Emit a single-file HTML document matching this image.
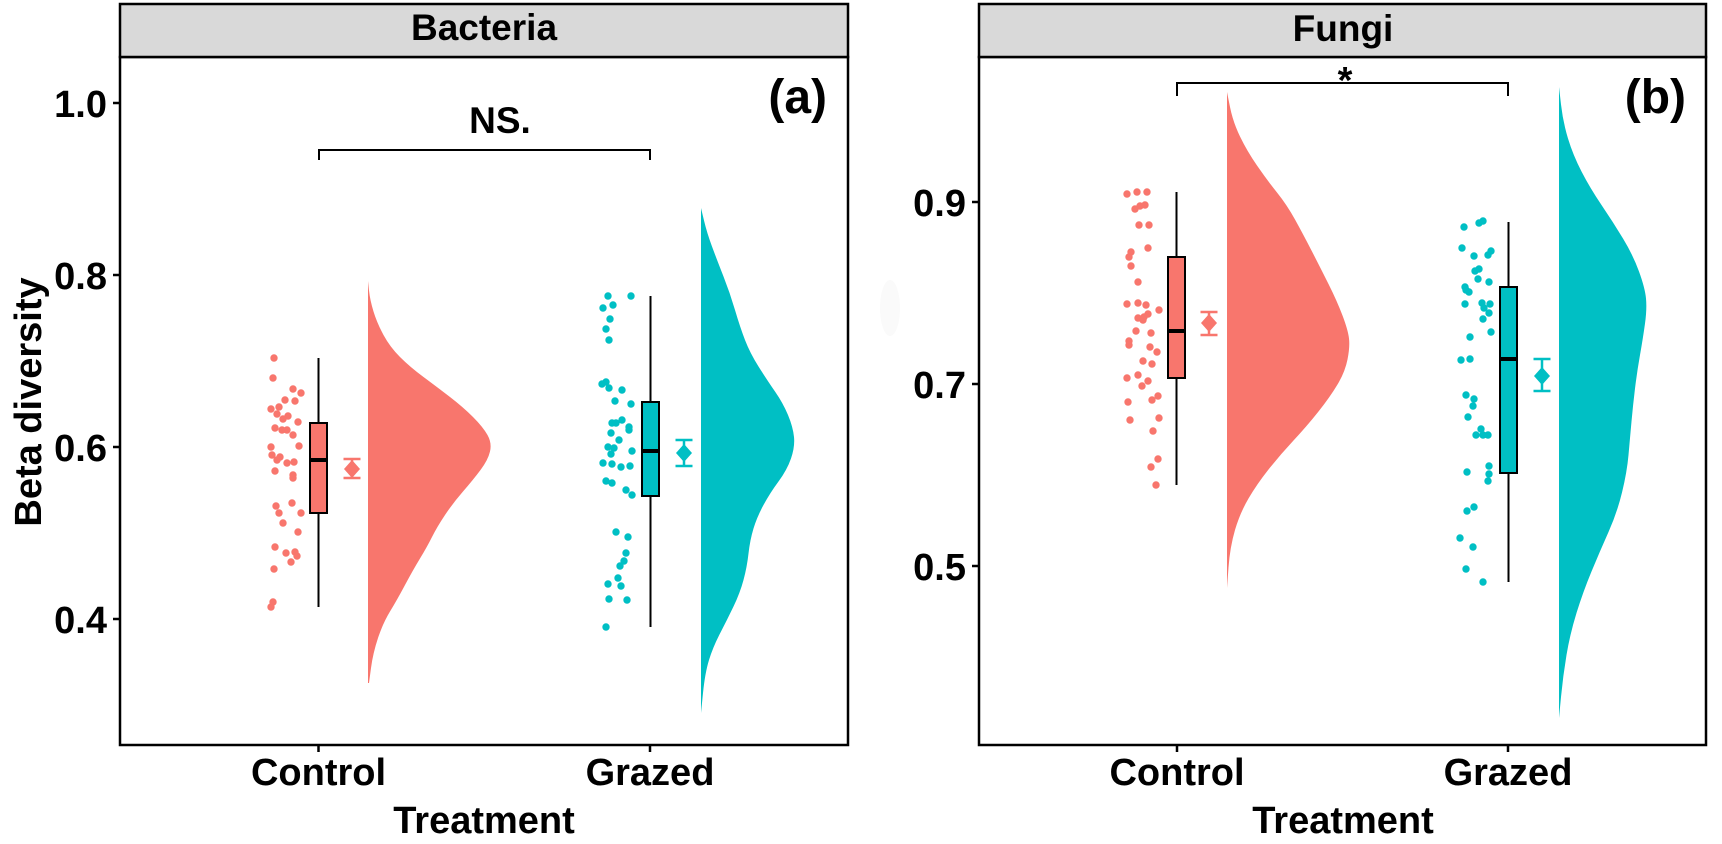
<!DOCTYPE html>
<html>
<head>
<meta charset="utf-8">
<style>
html,body{margin:0;padding:0;background:#fff;}
svg{display:block;}
text{font-family:"Liberation Sans",Arial,sans-serif;font-weight:bold;fill:#000;}
</style>
</head>
<body>
<svg width="1722" height="844" viewBox="0 0 1722 844" xmlns="http://www.w3.org/2000/svg">
<rect x="0" y="0" width="1722" height="844" fill="#fff"/>

<!-- ===== Panel A ===== -->
<path fill="#F8766D" d="M368,281 L369,290.5 Q370,300 373.5,311.5 Q377,323 383.5,335 Q390,347 400,357 Q410,367 423.5,377 Q437,387 450,397 Q463,407 473,417 Q483,427 487.5,435 Q492,443 490,451.5 Q488,460 480.5,470 Q473,480 463,491.5 Q453,503 445,515 Q437,527 432,537 Q427,547 420,558.5 Q413,570 405,585 Q397,600 390,611.5 Q383,623 378,638 Q373,653 371,668 L369,683 L368,683 Z"/>
<path fill="#00BFC4" d="M701,208 L704,220.5 Q707,233 712,246.5 Q717,260 723.5,276.5 Q730,293 735,310 Q740,327 745,340 Q750,353 758.5,366.5 Q767,380 775,391.5 Q783,403 788,415 Q793,427 794,437 Q795,447 791,458.5 Q787,470 778.5,481.5 Q770,493 763.5,505 Q757,517 753.5,528.5 Q750,540 748.5,553.5 Q747,567 743.5,580 Q740,593 733.5,606.5 Q727,620 720,633.5 Q713,647 709,660 Q705,673 703,693 L701,713 Z"/>

<g fill="#F8766D">
<circle cx="274" cy="358" r="3.7"/><circle cx="273" cy="378" r="3.7"/><circle cx="293" cy="389" r="3.7"/><circle cx="301" cy="393" r="3.7"/><circle cx="285" cy="400" r="3.7"/><circle cx="295" cy="401" r="3.7"/><circle cx="271" cy="409" r="3.7"/><circle cx="279" cy="407" r="3.7"/><circle cx="277" cy="414" r="3.7"/><circle cx="288" cy="416" r="3.7"/><circle cx="283" cy="419" r="3.7"/><circle cx="298" cy="422" r="3.7"/><circle cx="275" cy="428" r="3.7"/><circle cx="282" cy="430" r="3.7"/><circle cx="287" cy="430" r="3.7"/><circle cx="293" cy="435" r="3.7"/><circle cx="271" cy="447" r="3.7"/><circle cx="299" cy="446" r="3.7"/><circle cx="272" cy="455" r="3.7"/><circle cx="280" cy="457" r="3.7"/><circle cx="277" cy="460" r="3.7"/><circle cx="287" cy="463" r="3.7"/><circle cx="294" cy="462" r="3.7"/><circle cx="275" cy="471" r="3.7"/><circle cx="293" cy="475" r="3.7"/><circle cx="293" cy="478" r="3.7"/><circle cx="276" cy="506" r="3.7"/><circle cx="292" cy="503" r="3.7"/><circle cx="279" cy="513" r="3.7"/><circle cx="301" cy="513" r="3.7"/><circle cx="283" cy="523" r="3.7"/><circle cx="298" cy="532" r="3.7"/><circle cx="275" cy="547" r="3.7"/><circle cx="286" cy="553" r="3.7"/><circle cx="295" cy="552" r="3.7"/><circle cx="297" cy="556" r="3.7"/><circle cx="291" cy="562" r="3.7"/><circle cx="274" cy="569" r="3.7"/><circle cx="273" cy="602" r="3.7"/><circle cx="271" cy="607" r="3.7"/>
</g>
<g fill="#00BFC4">
<circle cx="608" cy="296" r="3.7"/><circle cx="631" cy="296" r="3.7"/><circle cx="613" cy="305" r="3.7"/><circle cx="603" cy="308" r="3.7"/><circle cx="610" cy="319" r="3.7"/><circle cx="606" cy="329" r="3.7"/><circle cx="609" cy="340" r="3.7"/><circle cx="602" cy="384" r="3.7"/><circle cx="606" cy="382" r="3.7"/><circle cx="609" cy="388" r="3.7"/><circle cx="622" cy="390" r="3.7"/><circle cx="615" cy="401" r="3.7"/><circle cx="631" cy="404" r="3.7"/><circle cx="612" cy="423" r="3.7"/><circle cx="616" cy="423" r="3.7"/><circle cx="622" cy="420" r="3.7"/><circle cx="629" cy="427" r="3.7"/><circle cx="629" cy="430" r="3.7"/><circle cx="611" cy="433" r="3.7"/><circle cx="619" cy="440" r="3.7"/><circle cx="608" cy="447" r="3.7"/><circle cx="614" cy="448" r="3.7"/><circle cx="611" cy="454" r="3.7"/><circle cx="632" cy="451" r="3.7"/><circle cx="603" cy="463" r="3.7"/><circle cx="612" cy="464" r="3.7"/><circle cx="621" cy="467" r="3.7"/><circle cx="630" cy="466" r="3.7"/><circle cx="606" cy="481" r="3.7"/><circle cx="612" cy="483" r="3.7"/><circle cx="626" cy="490" r="3.7"/><circle cx="632" cy="495" r="3.7"/><circle cx="616" cy="532" r="3.7"/><circle cx="628" cy="537" r="3.7"/><circle cx="626" cy="553" r="3.7"/><circle cx="624" cy="561" r="3.7"/><circle cx="620" cy="566" r="3.7"/><circle cx="618" cy="578" r="3.7"/><circle cx="608" cy="584" r="3.7"/><circle cx="621" cy="586" r="3.7"/><circle cx="609" cy="599" r="3.7"/><circle cx="627" cy="600" r="3.7"/><circle cx="606" cy="627" r="3.7"/>
</g>

<g stroke="#000" stroke-width="2">
<line x1="318.5" y1="358" x2="318.5" y2="607"/>
<rect x="310" y="423" width="17" height="90" fill="#F8766D"/>
<line x1="310" y1="460" x2="327" y2="460" stroke-width="4"/>
<line x1="650.5" y1="296" x2="650.5" y2="627"/>
<rect x="642" y="402" width="17" height="94" fill="#00BFC4"/>
<line x1="642" y1="451" x2="659" y2="451" stroke-width="4"/>
</g>
<g stroke="#F8766D" stroke-width="2.5" fill="none">
<line x1="352" y1="459" x2="352" y2="478"/><line x1="343.5" y1="459" x2="360.5" y2="459"/><line x1="343.5" y1="478" x2="360.5" y2="478"/>
</g>
<path fill="#F8766D" d="M352,460 L360,469 L352,478 L344,469 Z"/>
<g stroke="#00BFC4" stroke-width="2.5" fill="none">
<line x1="684" y1="440" x2="684" y2="466"/><line x1="675.5" y1="440" x2="692.5" y2="440"/><line x1="675.5" y1="466" x2="692.5" y2="466"/>
</g>
<path fill="#00BFC4" d="M684,444 L692,453 L684,462 L676,453 Z"/>

<path d="M319,160 L319,150 L650,150 L650,160" fill="none" stroke="#000" stroke-width="2"/>
<text x="500" y="133" font-size="37" text-anchor="middle">NS.</text>
<text x="827" y="113" font-size="48" text-anchor="end">(a)</text>

<rect x="120" y="57" width="728" height="688" fill="none" stroke="#000" stroke-width="2.5"/>
<rect x="120" y="4" width="728" height="53" fill="#D9D9D9" stroke="#000" stroke-width="2.5"/>
<text x="484" y="40" font-size="37" text-anchor="middle">Bacteria</text>

<g stroke="#000" stroke-width="2.5">
<line x1="113" y1="103" x2="120" y2="103"/><line x1="113" y1="275" x2="120" y2="275"/><line x1="113" y1="447" x2="120" y2="447"/><line x1="113" y1="619" x2="120" y2="619"/>
<line x1="318.5" y1="745" x2="318.5" y2="752"/><line x1="650" y1="745" x2="650" y2="752"/>
</g>
<g font-size="38" text-anchor="end">
<text x="107" y="117">1.0</text><text x="107" y="289">0.8</text><text x="107" y="461">0.6</text><text x="107" y="633">0.4</text>
</g>
<g font-size="38" text-anchor="middle">
<text x="318.5" y="785">Control</text><text x="650" y="785">Grazed</text>
<text x="484" y="833">Treatment</text>
</g>
<text transform="translate(41,402) rotate(-90)" font-size="38" text-anchor="middle">Beta diversity</text>

<!-- ===== Panel B ===== -->
<ellipse cx="890" cy="308" rx="10" ry="28" fill="#fafafa"/>
<path fill="#F8766D" d="M1227,92 L1230,107 Q1233,122 1240,136.5 Q1247,151 1257,165.5 Q1267,180 1277,192.5 Q1287,205 1295,219.5 Q1303,234 1311.5,250.5 Q1320,267 1328.5,284 Q1337,301 1342.5,315.5 Q1348,330 1349,338.5 Q1350,347 1347.5,359.5 Q1345,372 1337.5,384.5 Q1330,397 1318.5,411.5 Q1307,426 1293.5,440.5 Q1280,455 1268.5,469.5 Q1257,484 1248.5,498.5 Q1240,513 1235,530 Q1230,547 1228.5,567.5 L1227,588 Z"/>
<path fill="#00BFC4" d="M1559,87 L1561,104.5 Q1563,122 1568,138.5 Q1573,155 1581.5,171.5 Q1590,188 1601.5,205 Q1613,222 1623,238.5 Q1633,255 1639,271.5 Q1645,288 1646,298.5 Q1647,309 1645,323.5 Q1643,338 1640,355 Q1637,372 1635,388.5 Q1633,405 1631.5,421.5 Q1630,438 1628.5,455 Q1627,472 1622,492.5 Q1617,513 1608.5,532 Q1600,551 1591.5,571.5 Q1583,592 1576.5,613 Q1570,634 1566.5,655 Q1563,676 1561,697 L1559,718 Z"/>

<g fill="#F8766D">
<circle cx="1127" cy="194" r="3.7"/><circle cx="1137" cy="192" r="3.7"/><circle cx="1147" cy="192" r="3.7"/><circle cx="1135" cy="209" r="3.7"/><circle cx="1140" cy="206" r="3.7"/><circle cx="1145" cy="205" r="3.7"/><circle cx="1139" cy="225" r="3.7"/><circle cx="1149" cy="225" r="3.7"/><circle cx="1148" cy="248" r="3.7"/><circle cx="1131" cy="252" r="3.7"/><circle cx="1129" cy="257" r="3.7"/><circle cx="1131" cy="266" r="3.7"/><circle cx="1138" cy="282" r="3.7"/><circle cx="1127" cy="304" r="3.7"/><circle cx="1138" cy="303" r="3.7"/><circle cx="1146" cy="305" r="3.7"/><circle cx="1159" cy="310" r="3.7"/><circle cx="1148" cy="314" r="3.7"/><circle cx="1144" cy="317" r="3.7"/><circle cx="1138" cy="318" r="3.7"/><circle cx="1143" cy="320" r="3.7"/><circle cx="1136" cy="331" r="3.7"/><circle cx="1151" cy="333" r="3.7"/><circle cx="1129" cy="341" r="3.7"/><circle cx="1129" cy="345" r="3.7"/><circle cx="1150" cy="347" r="3.7"/><circle cx="1157" cy="352" r="3.7"/><circle cx="1143" cy="361" r="3.7"/><circle cx="1152" cy="364" r="3.7"/><circle cx="1138" cy="375" r="3.7"/><circle cx="1127" cy="378" r="3.7"/><circle cx="1148" cy="381" r="3.7"/><circle cx="1142" cy="386" r="3.7"/><circle cx="1158" cy="396" r="3.7"/><circle cx="1152" cy="400" r="3.7"/><circle cx="1128" cy="402" r="3.7"/><circle cx="1130" cy="420" r="3.7"/><circle cx="1159" cy="418" r="3.7"/><circle cx="1153" cy="431" r="3.7"/><circle cx="1158" cy="459" r="3.7"/><circle cx="1151" cy="467" r="3.7"/><circle cx="1156" cy="485" r="3.7"/>
</g>
<g fill="#00BFC4">
<circle cx="1464" cy="227" r="3.7"/><circle cx="1479" cy="223" r="3.7"/><circle cx="1483" cy="221" r="3.7"/><circle cx="1462" cy="248" r="3.7"/><circle cx="1474" cy="256" r="3.7"/><circle cx="1488" cy="255" r="3.7"/><circle cx="1491" cy="251" r="3.7"/><circle cx="1475" cy="271" r="3.7"/><circle cx="1479" cy="269" r="3.7"/><circle cx="1478" cy="279" r="3.7"/><circle cx="1489" cy="282" r="3.7"/><circle cx="1465" cy="287" r="3.7"/><circle cx="1466" cy="290" r="3.7"/><circle cx="1469" cy="292" r="3.7"/><circle cx="1465" cy="304" r="3.7"/><circle cx="1482" cy="303" r="3.7"/><circle cx="1490" cy="304" r="3.7"/><circle cx="1484" cy="308" r="3.7"/><circle cx="1489" cy="313" r="3.7"/><circle cx="1483" cy="319" r="3.7"/><circle cx="1491" cy="332" r="3.7"/><circle cx="1470" cy="337" r="3.7"/><circle cx="1461" cy="360" r="3.7"/><circle cx="1470" cy="359" r="3.7"/><circle cx="1466" cy="395" r="3.7"/><circle cx="1474" cy="399" r="3.7"/><circle cx="1473" cy="406" r="3.7"/><circle cx="1468" cy="417" r="3.7"/><circle cx="1481" cy="429" r="3.7"/><circle cx="1476" cy="435" r="3.7"/><circle cx="1483" cy="435" r="3.7"/><circle cx="1488" cy="435" r="3.7"/><circle cx="1489" cy="466" r="3.7"/><circle cx="1489" cy="474" r="3.7"/><circle cx="1488" cy="481" r="3.7"/><circle cx="1467" cy="472" r="3.7"/><circle cx="1467" cy="511" r="3.7"/><circle cx="1474" cy="507" r="3.7"/><circle cx="1460" cy="538" r="3.7"/><circle cx="1473" cy="547" r="3.7"/><circle cx="1466" cy="569" r="3.7"/><circle cx="1483" cy="582" r="3.7"/>
</g>

<g stroke="#000" stroke-width="2">
<line x1="1176.5" y1="192" x2="1176.5" y2="485"/>
<rect x="1168" y="257" width="17" height="121" fill="#F8766D"/>
<line x1="1168" y1="331" x2="1185" y2="331" stroke-width="4"/>
<line x1="1508.5" y1="222" x2="1508.5" y2="582"/>
<rect x="1500" y="287" width="17" height="186" fill="#00BFC4"/>
<line x1="1500" y1="359" x2="1517" y2="359" stroke-width="4"/>
</g>
<g stroke="#F8766D" stroke-width="2.5" fill="none">
<line x1="1209" y1="312" x2="1209" y2="335"/><line x1="1200.5" y1="312" x2="1217.5" y2="312"/><line x1="1200.5" y1="335" x2="1217.5" y2="335"/>
</g>
<path fill="#F8766D" d="M1209,314 L1217,323 L1209,332 L1201,323 Z"/>
<g stroke="#00BFC4" stroke-width="2.5" fill="none">
<line x1="1542" y1="359" x2="1542" y2="391"/><line x1="1533.5" y1="359" x2="1550.5" y2="359"/><line x1="1533.5" y1="391" x2="1550.5" y2="391"/>
</g>
<path fill="#00BFC4" d="M1542,367 L1550,376 L1542,385 L1534,376 Z"/>

<path d="M1177,96 L1177,83 L1508,83 L1508,96" fill="none" stroke="#000" stroke-width="2"/>
<text x="1345" y="93" font-size="38" text-anchor="middle">*</text>
<text x="1686" y="113" font-size="48" text-anchor="end">(b)</text>

<rect x="979" y="57" width="727" height="688" fill="none" stroke="#000" stroke-width="2.5"/>
<rect x="979" y="4" width="727" height="53" fill="#D9D9D9" stroke="#000" stroke-width="2.5"/>
<text x="1343" y="41" font-size="37" text-anchor="middle">Fungi</text>

<g stroke="#000" stroke-width="2.5">
<line x1="972" y1="202" x2="979" y2="202"/><line x1="972" y1="384" x2="979" y2="384"/><line x1="972" y1="566" x2="979" y2="566"/>
<line x1="1177" y1="745" x2="1177" y2="752"/><line x1="1508" y1="745" x2="1508" y2="752"/>
</g>
<g font-size="38" text-anchor="end">
<text x="966" y="216">0.9</text><text x="966" y="398">0.7</text><text x="966" y="580">0.5</text>
</g>
<g font-size="38" text-anchor="middle">
<text x="1177" y="785">Control</text><text x="1508" y="785">Grazed</text>
<text x="1343" y="833">Treatment</text>
</g>
</svg>
</body>
</html>
